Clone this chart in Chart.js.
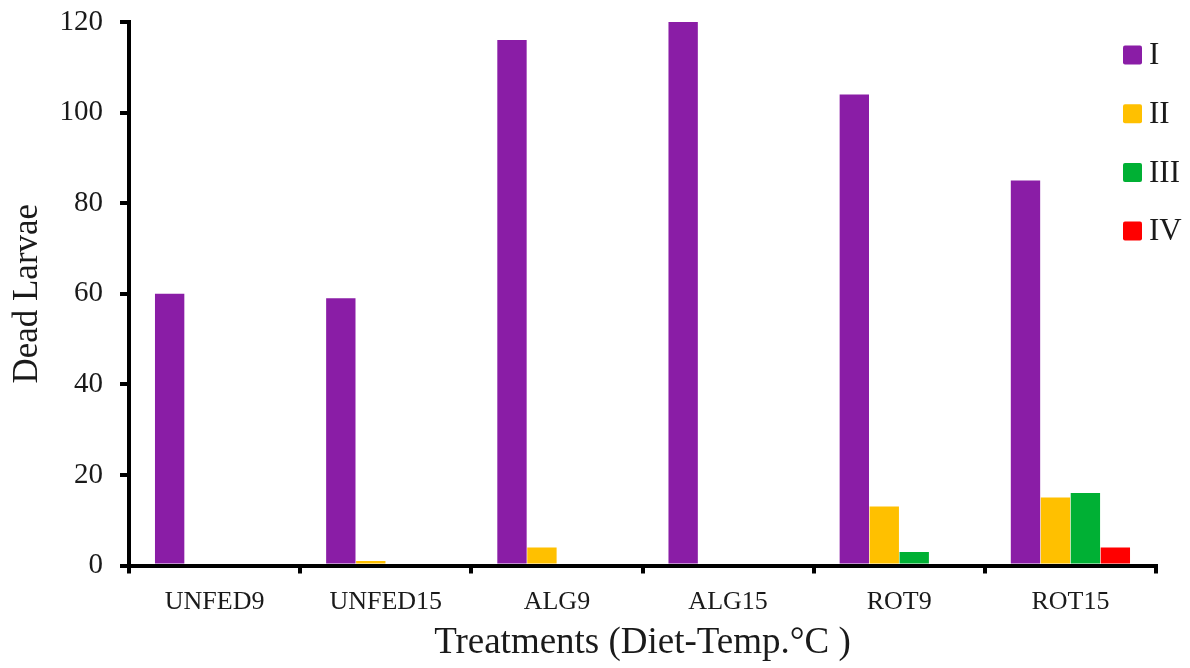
<!DOCTYPE html>
<html>
<head>
<meta charset="utf-8">
<script src="https://cdn.jsdelivr.net/npm/chart.js@4.4.1/dist/chart.umd.min.js"></script>
<style>
  html, body { margin: 0; padding: 0; background: #ffffff; }
  canvas { display: block; }
</style>
</head>
<body>
<canvas id="chart" width="1190" height="668"></canvas>
<script>
// Dead larvae per developmental stage, by diet and temperature
const treatments = ['UNFED9', 'UNFED15', 'ALG9', 'ALG15', 'ROT9', 'ROT15'];
const stageNames = ['I', 'II', 'III', 'IV'];
const stageI   = [60, 59, 116, 120, 104, 85];
const stageII  = [0, 1, 4, 0, 13, 15];
const stageIII = [0, 0, 0, 0, 3, 16];
const stageIV  = [0, 0, 0, 0, 0, 4];
const yTickValues = [0, 20, 40, 60, 80, 100, 120];

const stageColors = ['#8A1DA6', '#FFC000', '#00B034', '#FF0000'];
const serif = '"Liberation Serif", "Times New Roman", serif';
const inkColor = '#1a1a1a';

// Legend drawn inside the plot, at its upper right corner
const sideLegend = {
  id: 'sideLegend',
  afterDraw(chart, args, opts) {
    const ctx = chart.ctx;
    ctx.save();
    ctx.font = opts.fontSize + 'px ' + serif;
    ctx.textBaseline = 'middle';
    ctx.textAlign = 'left';
    chart.data.datasets.forEach((ds, i) => {
      const cy = opts.top + i * opts.spacing;
      ctx.fillStyle = ds.backgroundColor;
      ctx.beginPath();
      ctx.roundRect(opts.x, cy - opts.box / 2, opts.box, opts.box, 2);
      ctx.fill();
      ctx.fillStyle = inkColor;
      ctx.fillText(ds.label, opts.x + opts.box + 7, cy + 1);
    });
    ctx.restore();
  }
};

const seriesValues = [stageI, stageII, stageIII, stageIV];

new Chart(document.getElementById('chart'), {
  type: 'bar',
  data: {
    labels: treatments,
    datasets: stageNames.map((name, i) => ({
      label: name,
      data: seriesValues[i],
      backgroundColor: stageColors[i],
      borderWidth: 0,
      categoryPercentage: 0.7,
      barPercentage: 0.98
    }))
  },
  options: {
    responsive: false,
    animation: false,
    devicePixelRatio: 1,
    layout: { padding: { top: 22, right: 34, bottom: 0, left: 0 } },
    plugins: {
      legend: { display: false },
      tooltip: { enabled: false },
      sideLegend: { x: 1123, top: 55, spacing: 58.7, box: 19, fontSize: 31 }
    },
    scales: {
      x: {
        afterFit(scale) { scale.height = 102.5; scale.paddingRight = 0; scale.paddingLeft = 0; },
        grid: {
          display: true,
          drawOnChartArea: false,
          drawTicks: true,
          tickLength: 8,
          lineWidth: 4,
          color: '#000000',
          tickColor: '#000000'
        },
        border: { display: true, color: '#000000', width: 4 },
        ticks: {
          color: inkColor,
          padding: 13,
          font: { family: serif, size: 26 },
          maxRotation: 0,
          autoSkip: false
        },
        title: {
          display: true,
          text: 'Treatments (Diet-Temp.°C )',
          color: inkColor,
          font: { family: serif, size: 37 },
          padding: { top: 0, bottom: 3 }
        }
      },
      y: {
        min: 0,
        max: 120,
        afterFit(scale) { scale.width = 129; scale.paddingTop = 0; scale.paddingBottom = 0; },
        afterBuildTicks(scale) { scale.ticks = yTickValues.map(v => ({ value: v })); },
        grid: {
          display: true,
          drawOnChartArea: false,
          drawTicks: true,
          tickLength: 9,
          lineWidth: 4,
          color: '#000000',
          tickColor: '#000000'
        },
        border: { display: true, color: '#000000', width: 4 },
        ticks: {
          color: inkColor,
          padding: 17,
          font: { family: serif, size: 29 }
        },
        title: {
          display: true,
          text: 'Dead Larvae',
          color: inkColor,
          font: { family: serif, size: 35 },
          padding: { top: 7, bottom: 0 }
        }
      }
    }
  },
  plugins: [sideLegend]
});
</script>
</body>
</html>
